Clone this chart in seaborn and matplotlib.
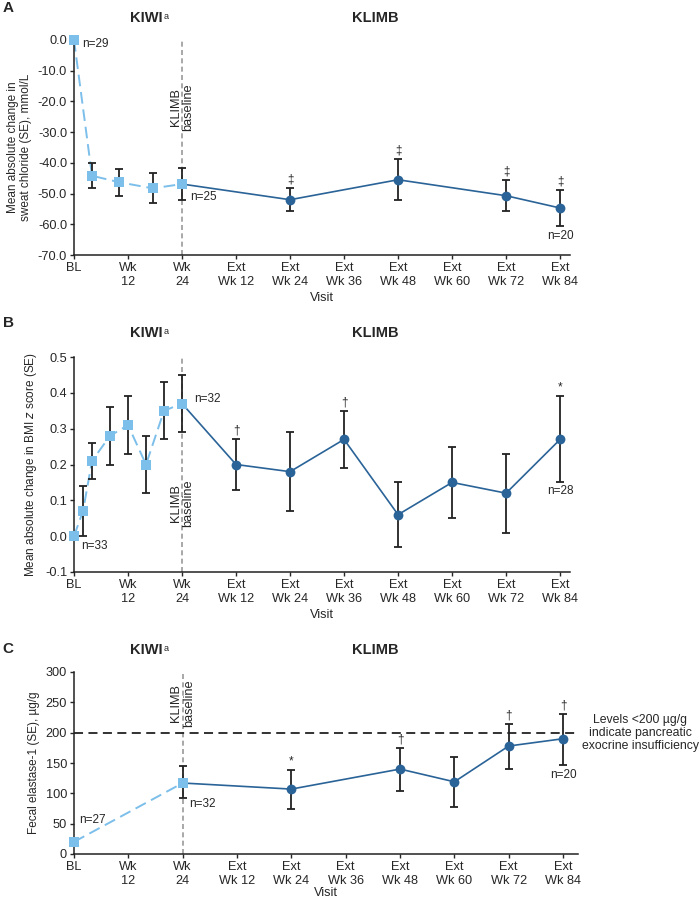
import numpy as np
import seaborn as sns
import matplotlib.pyplot as plt

nan = np.nan

# shared x axis (weeks since KIWI baseline)
visit_ticks = [0, 12, 24, 36, 48, 60, 72, 84, 96, 108]
visit_labels = ['BL', 'Wk\n12', 'Wk\n24', 'Ext\nWk 12', 'Ext\nWk 24', 'Ext\nWk 36',
                'Ext\nWk 48', 'Ext\nWk 60', 'Ext\nWk 72', 'Ext\nWk 84']

# Panel A - sweat chloride
a_kiwi_x = [0, 4, 10, 17.5, 24]
a_kiwi_y = [0.0, -44.2, -46.3, -48.3, -46.9]
a_kiwi_lo = [nan, -48.3, -50.9, -53.2, -52.1]
a_kiwi_hi = [nan, -40.0, -42.0, -43.4, -41.7]
a_klimb_x = [48, 72, 96, 108]
a_klimb_y = [-52.0, -45.5, -50.7, -54.7]
a_klimb_lo = [-55.6, -52.2, -55.7, -60.5]
a_klimb_hi = [-48.2, -38.6, -45.6, -48.8]
a_marks = ['‡', '‡', '‡', '‡']
a_yticks = [0, -10, -20, -30, -40, -50, -60, -70]

# Panel B - BMI z score
b_kiwi_x = [0, 2, 4, 8, 12, 16, 20, 24]
b_kiwi_y = [0.00, 0.07, 0.21, 0.28, 0.31, 0.20, 0.35, 0.37]
b_kiwi_lo = [nan, 0.00, 0.16, 0.20, 0.23, 0.12, 0.27, 0.29]
b_kiwi_hi = [nan, 0.14, 0.26, 0.36, 0.39, 0.28, 0.43, 0.45]
b_klimb_x = [36, 48, 60, 72, 84, 96, 108]
b_klimb_y = [0.20, 0.18, 0.27, 0.06, 0.15, 0.12, 0.27]
b_klimb_lo = [0.13, 0.07, 0.19, -0.03, 0.05, 0.01, 0.15]
b_klimb_hi = [0.27, 0.29, 0.35, 0.15, 0.25, 0.23, 0.39]
b_marks = ['†', '', '†', '', '', '', '*']
b_yticks = [0.5, 0.4, 0.3, 0.2, 0.1, 0.0, -0.1]

# Panel C - fecal elastase-1
c_kiwi_x = [0, 24]
c_kiwi_y = [20, 117]
c_kiwi_lo = [nan, 92]
c_kiwi_hi = [nan, 145]
c_klimb_x = [48, 72, 84, 96, 108]
c_klimb_y = [107, 140, 119, 178, 190]
c_klimb_lo = [75, 104, 77, 140, 147]
c_klimb_hi = [138, 175, 160, 214, 230]
c_marks = ['*', '†', '', '†', '†']
c_yticks = [0, 50, 100, 150, 200, 250, 300]

LIGHT = '#7cbfea'
DARK = '#2a6397'
ERR = '#222222'

sns.set_theme(style='ticks')
plt.rcParams['font.family'] = ['Liberation Sans', 'DejaVu Sans']
plt.rcParams['axes.unicode_minus'] = False
FS = 8.5
TFS = 9.2


def draw_panel(ax, kx, ky, klo, khi, mx, my, mlo, mhi, marks, xmax):
    # KLIMB solid line starts from the KIWI week 24 point
    sns.lineplot(x=[kx[-1]] + mx, y=[ky[-1]] + my, ax=ax, color=DARK, lw=1.2,
                 sort=False, zorder=2)
    sns.lineplot(x=kx, y=ky, ax=ax, color=LIGHT, lw=1.4, linestyle=(0, (6, 3)),
                 sort=False, zorder=2)
    kerr = [np.array(ky) - np.array(klo), np.array(khi) - np.array(ky)]
    merr = [np.array(my) - np.array(mlo), np.array(mhi) - np.array(my)]
    ax.errorbar(kx, ky, yerr=kerr, fmt='none', ecolor=ERR, elinewidth=1.3,
                capsize=3, capthick=1.3, zorder=3)
    ax.errorbar(mx, my, yerr=merr, fmt='none', ecolor=ERR, elinewidth=1.3,
                capsize=3, capthick=1.3, zorder=3)
    sns.scatterplot(x=mx, y=my, ax=ax, color=DARK, marker='o', s=50,
                    edgecolor=DARK, linewidth=0, zorder=4, clip_on=False)
    sns.scatterplot(x=kx, y=ky, ax=ax, color=LIGHT, marker='s', s=44,
                    edgecolor=LIGHT, linewidth=0, zorder=4, clip_on=False)
    for x, hi, m in zip(mx, mhi, marks):
        if m:
            ax.annotate(m, (x, hi), xytext=(0, 4), textcoords='offset points',
                        ha='center', va='baseline', fontsize=FS, zorder=6)
    ax.set_xlim(0, xmax)
    ax.set_xticks(visit_ticks)
    ax.set_xticklabels(visit_labels, fontsize=TFS, linespacing=1.2)
    ax.set_xlabel('Visit', fontsize=TFS, labelpad=3)
    ax.tick_params(axis='both', length=3, width=1, pad=2, labelsize=TFS)
    for s in ['left', 'bottom']:
        ax.spines[s].set_linewidth(1.1)
        ax.spines[s].set_color('#222222')
    sns.despine(ax=ax)
    ax.axvline(24, color='#999999', lw=1.2, linestyle=(0, (3, 2)), zorder=1)


def klimb_text(ax, ypos, va):
    ax.text(24, ypos, 'KLIMB\nbaseline', rotation=90, ha='center', va=va,
            fontsize=TFS, linespacing=1.1, transform=ax.get_xaxis_transform())


fig = plt.figure(figsize=(7, 9), dpi=100)

# ---------- A ----------
axA = fig.add_axes([74 / 700, 1 - 255 / 900, 496 / 700, 215 / 900])
draw_panel(axA, a_kiwi_x, a_kiwi_y, a_kiwi_lo, a_kiwi_hi,
           a_klimb_x, a_klimb_y, a_klimb_lo, a_klimb_hi, a_marks, 110.2)
axA.set_ylim(-70, 0)
axA.set_yticks(a_yticks)
axA.set_yticklabels([f'{v:.1f}' for v in a_yticks])
axA.set_ylabel('Mean absolute change in\nsweat chloride (SE), mmol/L',
               fontsize=FS, linespacing=1.1)
klimb_text(axA, 0.80, 'top')
axA.annotate('n=29', (a_kiwi_x[0], a_kiwi_y[0]), xytext=(6, -3),
             textcoords='offset points', fontsize=FS, va='center')
axA.annotate('n=25', (a_kiwi_x[-1], a_kiwi_y[-1]), xytext=(6, -9),
             textcoords='offset points', fontsize=FS, va='center')
axA.annotate('n=20', (a_klimb_x[-1], a_klimb_lo[-1]), xytext=(0, -3),
             textcoords='offset points', fontsize=FS, ha='center', va='top')

# ---------- B ----------
axB = fig.add_axes([74 / 700, 1 - 572 / 900, 496 / 700, 215 / 900])
draw_panel(axB, b_kiwi_x, b_kiwi_y, b_kiwi_lo, b_kiwi_hi,
           b_klimb_x, b_klimb_y, b_klimb_lo, b_klimb_hi, b_marks, 110.2)
axB.set_ylim(-0.1, 0.5)
axB.set_yticks(b_yticks)
axB.set_yticklabels([f'{v:.1f}' for v in b_yticks])
axB.set_ylabel('Mean absolute change in BMI $\\it{z}$ score (SE)', fontsize=FS)
klimb_text(axB, 0.21, 'bottom')
axB.annotate('n=33', (b_kiwi_x[0], b_kiwi_y[0]), xytext=(5, -7),
             textcoords='offset points', fontsize=FS, va='center')
axB.annotate('n=32', (b_kiwi_x[-1], b_kiwi_y[-1]), xytext=(9, 3),
             textcoords='offset points', fontsize=FS, va='center')
axB.annotate('n=28', (b_klimb_x[-1], b_klimb_lo[-1]), xytext=(0, -2),
             textcoords='offset points', fontsize=FS, ha='center', va='top')

# ---------- C ----------
axC = fig.add_axes([74 / 700, 1 - 854 / 900, 504 / 700, 182 / 900])
draw_panel(axC, c_kiwi_x, c_kiwi_y, c_kiwi_lo, c_kiwi_hi,
           c_klimb_x, c_klimb_y, c_klimb_lo, c_klimb_hi, c_marks, 111.3)
axC.set_ylim(0, 300)
axC.set_yticks(c_yticks)
axC.set_ylabel('Fecal elastase-1 (SE), µg/g', fontsize=FS)
axC.xaxis.labelpad = 0
axC.axhline(200, color='#222222', lw=1.3, linestyle=(0, (5, 3)), zorder=1)
klimb_text(axC, 0.96, 'top')
axC.annotate('n=27', (c_kiwi_x[0], c_kiwi_y[0]), xytext=(4, 16),
             textcoords='offset points', fontsize=FS, va='center')
axC.annotate('n=32', (c_kiwi_x[-1], c_kiwi_lo[-1]), xytext=(5, -4),
             textcoords='offset points', fontsize=FS, va='center')
axC.annotate('n=20', (c_klimb_x[-1], c_klimb_lo[-1]), xytext=(0, -3),
             textcoords='offset points', fontsize=FS, ha='center', va='top')
fig.text(640 / 700, 1 - 733 / 900,
         'Levels <200 µg/g\nindicate pancreatic\nexocrine insufficiency',
         fontsize=8.8, ha='center', va='center', linespacing=1.1)

# panel letters and study titles
for letter, yletter, ytitle in [('A', 8, 18), ('B', 323, 333), ('C', 649, 650)]:
    fig.text(0.004, 1 - yletter / 900, letter, fontsize=11, fontweight='bold',
             va='center')
    t = fig.text(146 / 700, 1 - ytitle / 900, 'KIWI', fontsize=10.5,
                 fontweight='bold', ha='center', va='center')
    fig.text(375 / 700, 1 - ytitle / 900, 'KLIMB', fontsize=10.5,
             fontweight='bold', ha='center', va='center')
    axA.annotate('a', xy=(1.0, 1.0), xycoords=t, xytext=(1, -1),
                 textcoords='offset points', fontsize=6.5, va='top',
                 ha='left', annotation_clip=False)

fig.savefig('out.png', dpi=100)
